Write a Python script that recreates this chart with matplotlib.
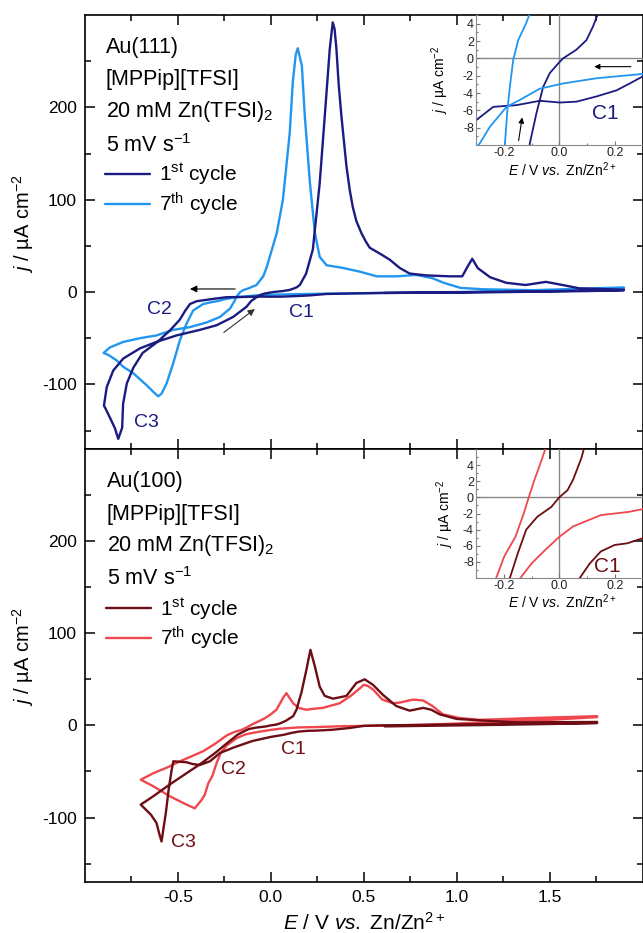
import numpy as np
import matplotlib
matplotlib.use('Agg')
import matplotlib.pyplot as plt
from matplotlib.ticker import FixedLocator

plt.rcParams['font.family'] = ['Liberation Sans', 'DejaVu Sans']
plt.rcParams['mathtext.fontset'] = 'custom'
plt.rcParams['mathtext.rm'] = 'Liberation Sans'
plt.rcParams['mathtext.it'] = 'Liberation Sans:italic'
plt.rcParams['mathtext.bf'] = 'Liberation Sans:bold'
plt.rcParams['axes.unicode_minus'] = False
plt.rcParams['lines.solid_joinstyle'] = 'round'
plt.rcParams['lines.solid_capstyle'] = 'round'

# ---- Au(111), 1st cycle (start -> negative scan -> positive scan)
E_111_c1 = [0.61, 0.9, 1.2, 1.5, 1.9,
            1.7, 1.5, 1.2, 1.0, 0.8, 0.6, 0.45, 0.30, 0.254, 0.206,
            0.134, 0.062, 0.002, -0.07, -0.154, -0.238, -0.298, -0.33, -0.40, -0.435,
            -0.46, -0.49, -0.54, -0.61, -0.69, -0.74, -0.775, -0.795, -0.80, -0.821,
            -0.84, -0.866, -0.89, -0.898,
            -0.883, -0.848, -0.794, -0.704, -0.615, -0.507, -0.382, -0.292, -0.203, -0.131,
            -0.106, -0.082, -0.058, -0.034, -0.004, 0.014, 0.062, 0.098, 0.122, 0.14,
            0.156, 0.19, 0.226, 0.263, 0.29, 0.317, 0.333, 0.343, 0.353, 0.365,
            0.38, 0.395, 0.407, 0.425, 0.441, 0.46, 0.487, 0.51, 0.532, 0.60,
            0.64, 0.694, 0.747, 0.837, 0.962, 1.03, 1.06, 1.084, 1.113, 1.18,
            1.267, 1.37, 1.48, 1.57, 1.66, 1.9]
j_111_c1 = [-1.0, -0.5, 0.2, 1.0, 2.0,
            1.0, 0.5, -0.2, -0.5, -0.8, -1.0, -1.5, -2.1, -2.9, -3.7,
            -4.4, -5.0, -5.1, -4.9, -5.4, -5.6, -7.1, -8, -10, -13,
            -20, -30, -41, -54, -66, -82, -99, -121, -147, -159,
            -147, -136, -126, -123,
            -103, -85, -72, -61, -54, -47, -41, -36, -27, -16,
            -9.8, -6.3, -3.3, -1.7, -0.6, 0, 1, 2.1, 3.7, 5.2,
            7.6, 20, 46, 118, 190, 263, 292, 285, 263, 225,
            190, 160, 136, 110, 92, 77, 64, 55, 48, 40,
            35, 26, 20, 18, 17, 17, 28, 36, 26, 16,
            10, 7.6, 11, 7.6, 4, 2.5]

# ---- Au(111), 7th cycle
E_111_c7 = [1.9, 1.7, 1.5, 1.2, 1.0, 0.8, 0.6, 0.45, 0.3, 0.134,
            0.014, -0.07, -0.142, -0.19, -0.25, -0.286, -0.32, -0.364, -0.418, -0.453,
            -0.489, -0.525, -0.561, -0.588, -0.606, -0.633, -0.668, -0.74, -0.794, -0.83,
            -0.875, -0.90,
            -0.866, -0.794, -0.704, -0.615, -0.525, -0.435, -0.346, -0.274, -0.22, -0.196,
            -0.187, -0.178, -0.166, -0.148, -0.12, -0.077, -0.041, -0.022, 0.032, 0.065,
            0.102, 0.118, 0.134, 0.145, 0.167, 0.183, 0.21, 0.237, 0.263, 0.30,
            0.39, 0.48, 0.57, 0.68, 0.78, 0.87, 0.93, 1.02, 1.14, 1.41, 1.9]
j_111_c7 = [4, 2.5, 1.5, 0.5, 0, -0.5, -1.0, -1.4, -1.8, -2.3,
            -2.9, -3.5, -4.8, -5.6, -7.9, -9.8, -11, -13, -20, -34,
            -52, -77, -99, -110, -113, -108, -101, -88, -81, -74,
            -68, -66,
            -60, -54, -50, -47, -41, -38, -33, -27, -18, -10,
            -6, -3.3, -0.2, 2.1, 4, 7.6, 17, 27, 64, 100,
            173, 227, 257, 264, 245, 190, 119, 64, 38, 29,
            26, 22, 17, 17, 18.5, 15, 10, 4.5, 3, 2, 5]

# ---- Au(100), 1st cycle
E_100_c1 = [0.613, 0.9, 1.2, 1.5, 1.756,
            1.4, 1.0, 0.8, 0.6, 0.5, 0.425, 0.333, 0.245, 0.2, 0.15,
            0.11, 0.07, 0.0, -0.1, -0.2, -0.274, -0.328, -0.382, -0.42, -0.454,
            -0.525, -0.535, -0.55, -0.565, -0.58, -0.588, -0.60, -0.615, -0.645, -0.67,
            -0.70,
            -0.633, -0.543, -0.454, -0.38, -0.30, -0.24, -0.178, -0.149, -0.119, -0.079,
            -0.029, 0.0, 0.03, 0.05, 0.08, 0.12, 0.138, 0.165, 0.191, 0.213,
            0.237, 0.263, 0.29, 0.335, 0.407, 0.46, 0.505, 0.55, 0.604, 0.675,
            0.747, 0.82, 0.863, 0.909, 1.0, 1.124, 1.32, 1.756]
j_100_c1 = [-1.1, -0.3, 0.5, 1.5, 2.6,
            2, 1, 0.5, 0, -0.5, -2.8, -4.7, -5.7, -5.9, -6.7,
            -8.2, -10.2, -12.5, -17, -24, -30, -39, -43, -42, -40,
            -39, -50, -70, -95, -115, -126, -118, -106, -97, -92,
            -86,
            -77, -64, -52, -42, -30, -20, -10, -6.9, -4, -2.4,
            -1.2, 0, 0.9, 2.2, 4.9, 10, 17, 36, 60, 82,
            64, 42, 32, 29, 32, 46, 50, 44, 33, 21,
            16, 19, 17, 12, 7, 5.5, 3.3, 3.7]

# ---- Au(100), 7th cycle
E_100_c7 = [1.756, 1.5, 1.2, 1.0, 0.8, 0.6, 0.4, 0.25, 0.15, 0.05,
            0.0, -0.05, -0.1, -0.14, -0.185, -0.238, -0.27, -0.292, -0.315, -0.337,
            -0.355, -0.373, -0.409, -0.454, -0.543, -0.633, -0.70,
            -0.633, -0.55, -0.489, -0.42, -0.364, -0.30, -0.238, -0.198, -0.158, -0.128,
            -0.109, -0.089, -0.064, -0.03, 0.0, 0.03, 0.05, 0.066, 0.084, 0.10,
            0.12, 0.15, 0.19, 0.23, 0.28, 0.37, 0.43, 0.478, 0.50, 0.52,
            0.55, 0.60, 0.657, 0.70, 0.765, 0.82, 0.87, 0.926, 1.016, 1.124,
            1.41, 1.756]
j_100_c7 = [9, 6, 4, 2, 0.5, -0.3, -0.8, -1.8, -2.2, -3.6,
            -4.9, -6.5, -8.2, -10, -14, -22, -30, -41, -55, -63,
            -75, -81, -90, -86, -77, -66, -59,
            -52, -45, -39, -33, -28, -20, -11, -7.3, -4.9, -2,
            0.1, 2.2, 4.6, 8, 12, 17, 24, 30, 35, 30,
            24, 19, 17, 18, 19, 24, 32, 40, 44, 43,
            39, 28, 24, 25, 28, 27, 21, 12, 8, 6,
            8, 10]

x_major = [-0.5, 0.0, 0.5, 1.0, 1.5]
x_minor = [-0.75, -0.25, 0.25, 0.75, 1.25, 1.75]
y_major = [-100, 0, 100, 200]
y_minor = [-150, -50, 50, 150, 250]
inset_yticks = [-8, -6, -4, -2, 0, 2, 4]

navy = '#1b1b82'
sky = '#2196f0'
maroon = '#6e0d14'
salmon = '#f0474f'

W, H = 643, 933
fig = plt.figure(figsize=(W / 100, H / 100), dpi=100)

def fbox(x0, y0, x1, y1):
    return [x0 / W, 1 - y1 / H, (x1 - x0) / W, (y1 - y0) / H]

ax1 = fig.add_axes(fbox(85, 15, 642.5, 449))
ax2 = fig.add_axes(fbox(85, 449, 642.5, 882))

ylab = r'$\mathit{j}$ / µA cm$^{-2}$'
xlab = r'$\mathit{E}$ / V $\mathit{vs.}$ Zn/Zn$^{2+}$'


def style_main(ax):
    ax.set_xlim(-1.0, 2.0)
    ax.set_ylim(-170, 300)
    ax.xaxis.set_major_locator(FixedLocator(x_major))
    ax.xaxis.set_minor_locator(FixedLocator(x_minor))
    ax.yaxis.set_major_locator(FixedLocator(y_major))
    ax.yaxis.set_minor_locator(FixedLocator(y_minor))
    ax.tick_params(which='both', direction='in', top=True, right=True,
                   width=1.1, labelsize=12.5, pad=6)
    ax.tick_params(which='major', length=7)
    ax.tick_params(which='minor', length=4)
    for s in ax.spines.values():
        s.set_linewidth(1.2)
    ax.set_ylabel(ylab, fontsize=14.5)
    ax.yaxis.set_label_coords(-0.088, 0.52)


def add_inset(box, xlim, ylim, xt, xlabel_y, ylabel_x):
    ins = fig.add_axes(fbox(*box))
    ins.set_facecolor('none')
    ins.set_xlim(*xlim)
    ins.set_ylim(*ylim)
    ins.set_xticks(xt)
    ins.set_xticks([-0.3, -0.1, 0.1, 0.3], minor=True)
    ins.set_xticklabels(['-0.2', '0.0', '0.2'])
    ins.set_yticks(inset_yticks)
    ins.set_yticks(np.arange(-9, 6, 2), minor=True)
    ins.tick_params(which='both', direction='in', colors='#777777',
                    labelcolor='#222222', labelsize=9, pad=1.5, width=0.8)
    ins.tick_params(which='major', length=3)
    ins.tick_params(which='minor', length=1.5)
    ins.spines['top'].set_visible(False)
    ins.spines['right'].set_visible(False)
    ins.spines['left'].set_color('#888888')
    ins.spines['bottom'].set_color('#888888')
    ins.axhline(0, color='#888888', lw=1.0, zorder=1)
    ins.axvline(0, color='#888888', lw=1.0, zorder=1)
    ins.set_xlabel(xlab, fontsize=10)
    ins.xaxis.set_label_coords(0.52, xlabel_y)
    ins.set_ylabel(ylab, fontsize=10)
    ins.yaxis.set_label_coords(ylabel_x, 0.5)
    return ins


# ---------------- top panel : Au(111)
style_main(ax1)
ax1.tick_params(labelbottom=False)
ax1.plot(E_111_c1, j_111_c1, color=navy, lw=1.7, label=r'1$^{\rm st}$ cycle', zorder=3)
ax1.plot(E_111_c7, j_111_c7, color=sky, lw=1.7, label=r'7$^{\rm th}$ cycle', zorder=2)

for txt, yb in [('Au(111)', 53), ('[MPPip][TFSI]', 85),
                (r'20 mM Zn(TFSI)$_2$', 117), (r'5 mV s$^{-1}$', 152)]:
    ax1.text((106 - 85) / 557.5, (449 - yb) / 434, txt, transform=ax1.transAxes,
             fontsize=15.5, va='baseline', ha='left')
leg1 = ax1.legend(loc='upper left', bbox_to_anchor=(0.035, 0.662), frameon=False,
                  fontsize=15, handlelength=2.2, handletextpad=0.4,
                  labelspacing=0.15, borderpad=0, borderaxespad=0)

ax1.text(-0.60, -19, 'C2', color=navy, fontsize=14, ha='center', va='center')
ax1.text(0.167, -22, 'C1', color=navy, fontsize=14, ha='center', va='center')
ax1.text(-0.672, -141, 'C3', color=navy, fontsize=14, ha='center', va='center')
ax1.annotate('', xy=(-0.45, 3.3), xytext=(-0.177, 3.3),
             arrowprops=dict(arrowstyle='-|>', color='k', lw=0.8, mutation_scale=10))
ax1.annotate('', xy=(-0.074, -16.6), xytext=(-0.265, -45.6),
             arrowprops=dict(arrowstyle='-|>', color='#333333', lw=0.8, mutation_scale=10))

ins1 = add_inset((476, 15, 642.5, 145), (-0.3, 0.3), (-10, 5), [-0.2, 0.0, 0.2], -0.12, -0.15)
ins1.plot(E_111_c1, j_111_c1, color=navy, lw=1.3)
ins1.plot(E_111_c7, j_111_c7, color=sky, lw=1.3)
ins1.text(0.165, -6.4, 'C1', color=navy, fontsize=15, ha='center', va='center')
ins1.annotate('', xy=(0.116, -0.96), xytext=(0.268, -0.96),
              arrowprops=dict(arrowstyle='-|>', color='k', lw=0.8, mutation_scale=8))
ins1.annotate('', xy=(-0.132, -6.5), xytext=(-0.148, -9.8),
              arrowprops=dict(arrowstyle='-|>', color='k', lw=0.8, mutation_scale=8))

# ---------------- bottom panel : Au(100)
style_main(ax2)
ax2.plot(E_100_c1, j_100_c1, color=maroon, lw=1.7, label=r'1$^{\rm st}$ cycle', zorder=3)
ax2.plot(E_100_c7, j_100_c7, color=salmon, lw=1.7, label=r'7$^{\rm th}$ cycle', zorder=2)
ax2.set_xlabel(xlab, fontsize=15)
ax2.xaxis.set_label_coords(0.5, -0.07)

for txt, yb in [('Au(100)', 487), ('[MPPip][TFSI]', 520),
                (r'20 mM Zn(TFSI)$_2$', 551), (r'5 mV s$^{-1}$', 585)]:
    ax2.text((107 - 85) / 557.5, (882 - yb) / 433, txt, transform=ax2.transAxes,
             fontsize=15.5, va='baseline', ha='left')
leg2 = ax2.legend(loc='upper left', bbox_to_anchor=(0.037, 0.66), frameon=False,
                  fontsize=15, handlelength=2.2, handletextpad=0.4,
                  labelspacing=0.15, borderpad=0, borderaxespad=0)

ax2.text(0.124, -26, 'C1', color=maroon, fontsize=14, ha='center', va='center')
ax2.text(-0.199, -48, 'C2', color=maroon, fontsize=14, ha='center', va='center')
ax2.text(-0.468, -127, 'C3', color=maroon, fontsize=14, ha='center', va='center')

ins2 = add_inset((476, 449, 642.5, 578), (-0.25, 0.25), (-10, 6), [-0.2, 0.0, 0.2], -0.115, -0.12)
ins2.plot(E_100_c1, j_100_c1, color=maroon, lw=1.3)
ins2.plot(E_100_c7, j_100_c7, color=salmon, lw=1.3)
ins2.text(0.174, -8.6, 'C1', color=maroon, fontsize=15, ha='center', va='center')

fig.savefig('out.png', dpi=100, facecolor='white')
